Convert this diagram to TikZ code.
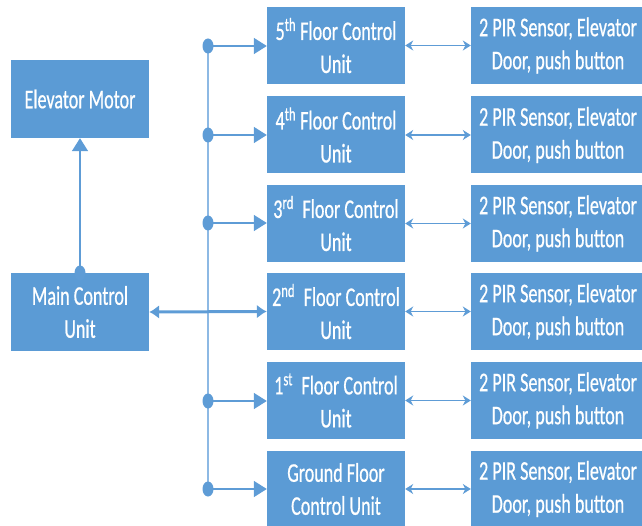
\documentclass[tikz,border=0pt]{standalone}
\usepackage{fontspec}
\setmainfont{Carlito}
\newfontfamily\boxfont[FakeStretch=0.67,FakeBold=0.6]{Carlito}
\usetikzlibrary{arrows.meta,shapes.geometric}
\definecolor{boxblue}{HTML}{5B9BD5}
\definecolor{linkblue}{HTML}{5E9CD6}
\definecolor{busblue}{HTML}{8DB9E4}
\tikzset{
  blk/.style={rectangle, fill=boxblue, draw=none, inner sep=0pt, align=center,
    text=white, font=\boxfont\fontsize{27}{33}\selectfont},
  ctl/.style={blk, minimum width=138pt, minimum height=77pt},
  sen/.style={blk, minimum width=174pt, minimum height=77pt},
  joint/.style={fill=linkblue, draw=none, ellipse, minimum width=11pt, minimum height=15pt, inner sep=0pt},
  feed/.style={draw=linkblue, line width=1.6pt, -{Triangle[length=13pt,width=16pt]}},
  bus/.style={draw=busblue, line width=1.6pt},
  dbl/.style={draw=linkblue, line width=1.5pt, {Stealth[length=8pt,width=10pt]}-{Stealth[length=8pt,width=10pt]}},
  mainlink/.style={draw=linkblue, line width=3pt, {Latex[length=10pt,width=14pt]}-{Latex[length=10pt,width=14pt]}},
}
\begin{document}
\begin{tikzpicture}[x=1pt,y=-1pt]
\useasboundingbox (0,0) rectangle (642,526);

\node[ctl, minimum height=78pt] (motor) at (80,99) {Elevator Motor};
\node[ctl, minimum height=78pt] (main) at (80,312) {Main Control\\Unit};

\node[ctl] (f5) at (336,45.5) {5\textsuperscript{th} Floor Control\\Unit};
\node[ctl] (f4) at (336,135) {4\textsuperscript{th} Floor Control\\Unit};
\node[ctl] (f3) at (336,223.5) {3\textsuperscript{rd}\, Floor Control\\Unit};
\node[ctl] (f2) at (336,311.5) {2\textsuperscript{nd}\, Floor Control\\Unit};
\node[ctl] (f1) at (336,400.5) {1\textsuperscript{st}\, Floor Control\\Unit};
\node[ctl] (f0) at (336,489) {Ground Floor\\Control Unit};

\foreach \n/\y in {5/45.5,4/135,3/223.5,2/311.5,1/400.5,0/489}{
  \node[sen] (s\n) at (558,\y) {2 PIR Sensor, Elevator\\Door, push button};
}

% bus
\coordinate (bt) at (208,46);
\coordinate (bb) at (208,489);
\draw[bus] (bt) -- (bb);

\foreach \n/\y in {5/46,4/135,3/223,1/401,0/489}{
  \node[joint] (j\n) at (208,\y) {};
  \draw[feed] (j\n.center) -- (f\n.west |- j\n.center);
}

% main link
\draw[mainlink] (main.east) -- (f2.west);

% motor link
\node[joint] (jm) at (80,273) {};
\draw[feed] (jm.center) -- (motor.south);

% floor-sensor links
\foreach \n in {5,4,3,2,1,0}{
  \draw[dbl] (f\n.east) -- (s\n.west);
}
\end{tikzpicture}
\end{document}
